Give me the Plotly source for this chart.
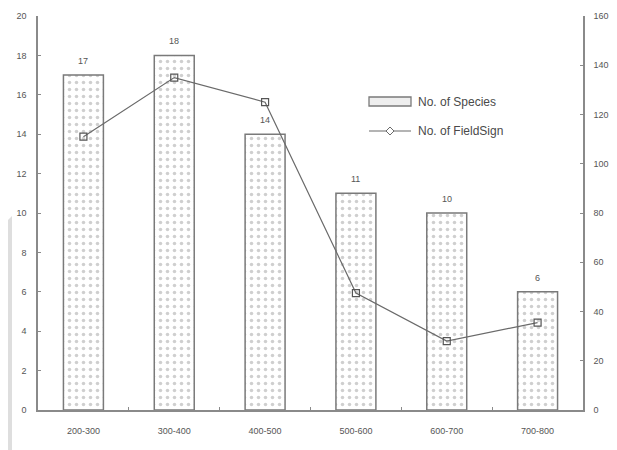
import plotly.graph_objects as go

categories = ["200-300", "300-400", "400-500", "500-600", "600-700", "700-800"]
species = [17, 18, 14, 11, 10, 6]
fieldsign = [111, 135, 125, 47.5, 28, 35.5]
left_ticks = list(range(0, 21, 2))
right_ticks = list(range(0, 161, 20))

fig = go.Figure()
fig.add_trace(go.Bar(
    x=categories, y=species, name="No. of Species",
    width=0.44,
    marker=dict(color="white", line=dict(color="#7a7a7a", width=1.5),
                pattern=dict(shape=".", fgcolor="#a0a0a0", bgcolor="white", size=7, solidity=0.2)),
    showlegend=False,
))
fig.add_trace(go.Scatter(
    x=categories, y=fieldsign, name="No. of FieldSign", yaxis="y2",
    mode="lines+markers",
    line=dict(color="#6a6a6a", width=1.2),
    marker=dict(symbol="square-open", size=7, color="#555", line=dict(width=1.2)),
    showlegend=False,
))

annotations = [dict(x=c, y=v, xref="x", yref="y", text=str(v), showarrow=False,
                    yanchor="bottom", yshift=7, font=dict(size=9, color="#555"))
               for c, v in zip(categories, species)]

# manual legend (paper coords; plot area in window px x 38..583, y 16..410)
def px(x):
    return (x - 38) / 545
def py(y):
    return (410 - y) / 394

annotations += [
    dict(x=px(416), y=py(102), xref="paper", yref="paper", text="No. of Species",
         showarrow=False, xanchor="left", yanchor="middle", font=dict(size=12, color="#4a4a4a")),
    dict(x=px(416), y=py(131), xref="paper", yref="paper", text="No. of FieldSign",
         showarrow=False, xanchor="left", yanchor="middle", font=dict(size=12, color="#4a4a4a")),
]

shapes = [
    dict(type="path", xref="paper", yref="paper",
         path=f"M {px(0)},{py(228)} L {px(12)},{py(216)} L {px(12)},{py(460)} L {px(0)},{py(460)} Z",
         fillcolor="#dedede", line=dict(width=0), layer="below"),
    dict(type="rect", xref="paper", yref="paper", x0=px(369), x1=px(411), y0=py(106), y1=py(97),
         fillcolor="#eeeeee", line=dict(color="#7a7a7a", width=1.3)),
    dict(type="line", xref="paper", yref="paper", x0=px(369), x1=px(411), y0=py(131), y1=py(131),
         line=dict(color="#6a6a6a", width=1.2)),
    dict(type="path", xref="paper", yref="paper",
         path=f"M {px(386)},{py(131)} L {px(390)},{py(127)} L {px(394)},{py(131)} L {px(390)},{py(135)} Z",
         fillcolor="white", line=dict(color="#6a6a6a", width=1)),
]

axis_common = dict(showline=True, linecolor="#8a8a8a", linewidth=1.5, ticks="inside",
                   ticklen=3, tickcolor="#8a8a8a", showgrid=False, zeroline=False,
                   automargin=False,
                   tickfont=dict(size=9, color="#555", family="Liberation Sans, Arial"))

fig.update_layout(
    width=617, height=450,
    margin=dict(l=30, r=42, t=8, b=48, autoexpand=False),
    paper_bgcolor="white", plot_bgcolor="white",
    font=dict(family="Liberation Sans, Arial", color="#444"),
    showlegend=False,
    xaxis=dict(range=[-0.5, 5.5], tickson="boundaries", ticklabelstandoff=11, **axis_common),
    yaxis=dict(range=[0, 20], tickvals=left_ticks, ticklabelstandoff=8, **axis_common),
    yaxis2=dict(range=[0, 160], tickvals=right_ticks, overlaying="y", side="right",
                ticklabelstandoff=7, **axis_common),
    shapes=shapes,
    annotations=annotations,
)

fig.write_html("out.html")
